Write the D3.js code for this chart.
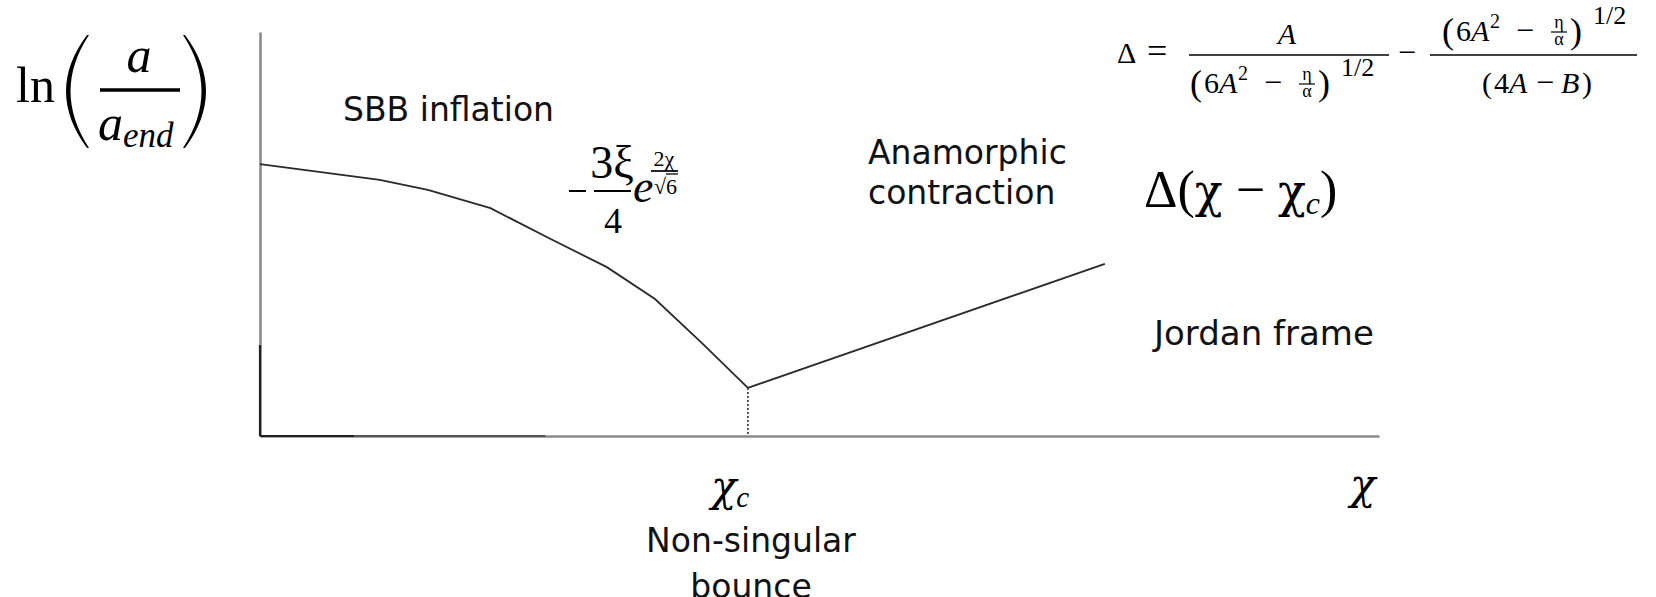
<!DOCTYPE html>
<html>
<head>
<meta charset="utf-8">
<script src="https://cdn.jsdelivr.net/npm/d3@7"></script>
<style>
  html, body { margin: 0; padding: 0; background: #fff; overflow: hidden; }
  svg { display: block; }
  .sans  { font-family: "DejaVu Sans", Verdana, sans-serif; fill: #111; }
  .serif { font-family: "Liberation Serif", "Times New Roman", serif; fill: #000; }
  .greek { font-family: "DejaVu Serif", "Liberation Serif", serif; fill: #000; }
</style>
</head>
<body>
<svg id="chart" width="1656" height="597"></svg>
<script>
// Scale factor ln(a/a_end) against the field chi (arbitrary units)
const chiInflation   = [0, 10.7, 15.0, 20.6, 25.8, 31.0, 35.3, 39.5, 43.6];
const lnAInflation   = [67.3, 63.4, 60.9, 56.4, 49.0, 41.8, 33.9, 23.0, 11.9];
const chiContraction = [43.6, 75.5];
const lnAContraction = [11.9, 42.6];
const chiBounce = 43.6;
const lnABounce = 11.9;
const chiDomain = [0, 100];
const lnADomain = [0, 100];

const svg = d3.select("#chart");
const x = d3.scaleLinear().domain(chiDomain).range([260, 1379]);
const y = d3.scaleLinear().domain(lnADomain).range([436, 32]);

// ---- axes (no ticks, plain lines) ----
const gx = svg.append("g").attr("transform", `translate(0,${y(0)})`)
  .call(d3.axisBottom(x).ticks(0).tickSizeOuter(0));
const gy = svg.append("g").attr("transform", `translate(${x(0)},0)`)
  .call(d3.axisLeft(y).ticks(0).tickSizeOuter(0));
[gx, gy].forEach(g => g.select(".domain").attr("stroke", "#8a8a8a").attr("stroke-width", 2.6));

// darker lower/left stretches of the axes
svg.append("line").attr("x1", x(0)).attr("x2", x(8.4)).attr("y1", y(0)).attr("y2", y(0))
  .attr("stroke", "#222").attr("stroke-width", 2.2);
svg.append("line").attr("x1", x(8.4)).attr("x2", x(25.5)).attr("y1", y(0)).attr("y2", y(0))
  .attr("stroke", "#555").attr("stroke-width", 2.2);
svg.append("line").attr("x1", x(0)).attr("x2", x(0)).attr("y1", y(0)).attr("y2", y(22.5))
  .attr("stroke", "#222").attr("stroke-width", 2.2);

// ---- curves ----
const line = d3.line().x(d => x(d[0])).y(d => y(d[1]));
svg.append("path")
  .datum(chiInflation.map((c, i) => [c, lnAInflation[i]]))
  .attr("d", line).attr("fill", "none").attr("stroke", "#2a2a2a").attr("stroke-width", 1.8);
svg.append("path")
  .datum(chiContraction.map((c, i) => [c, lnAContraction[i]]))
  .attr("d", line).attr("fill", "none").attr("stroke", "#2a2a2a").attr("stroke-width", 1.8);

// dotted drop line at the bounce
svg.append("line")
  .attr("x1", x(chiBounce)).attr("x2", x(chiBounce))
  .attr("y1", y(lnABounce)).attr("y2", y(0))
  .attr("stroke", "#333").attr("stroke-width", 1.6).attr("stroke-dasharray", "2,2");

// ---- text helpers ----
function t(px, py, s, size, opts = {}) {
  return svg.append("text")
    .attr("x", px).attr("y", py)
    .attr("class", opts.cls || (opts.sans ? "sans" : "serif"))
    .attr("text-anchor", opts.anchor || "start")
    .style("font-size", size + "px")
    .style("font-style", opts.italic ? "italic" : null)
    .text(s);
}
function bar(x1, x2, py, w) {
  svg.append("line").attr("x1", x1).attr("x2", x2).attr("y1", py).attr("y2", py)
    .attr("stroke", "#000").attr("stroke-width", w);
}

// ---- y label: ln(a / a_end) ----
t(16, 102, "ln", 50);
svg.append("path").attr("d", "M87,35 Q45,91 87,148 L89,148 Q52,91 89,35 Z").attr("fill", "#000");
svg.append("path").attr("d", "M185,35 Q227,91 185,148 L183,148 Q220,91 183,35 Z").attr("fill", "#000");
t(139, 72, "a", 50, { italic: true, anchor: "middle" });
bar(100, 180, 90, 3.6);
const aend = t(98, 140, "a", 50, { italic: true });
aend.append("tspan").attr("dy", 7).style("font-size", "35px").text("end");

// ---- region labels ----
t(343, 121, "SBB inflation", 33, { sans: true });
t(868, 164, "Anamorphic", 33, { sans: true });
t(868, 204, "contraction", 33, { sans: true });
t(1154, 345, "Jordan frame", 34, { sans: true });
t(751, 552, "Non-singular", 33, { sans: true, anchor: "middle" });
t(751, 598, "bounce", 33, { sans: true, anchor: "middle" });

// ---- x labels ----
const chic = t(x(chiBounce) - 37, 501, "χ", 42, { italic: true, cls: "greek" });
chic.append("tspan").attr("dy", 6).style("font-size", "29px")
  .style("font-family", "Liberation Serif").text("c");
t(1350, 499, "χ", 42, { italic: true, cls: "greek" });

// ---- inflation branch formula: -3ξ/4 e^{2χ/√6} ----
bar(569, 586, 191, 2);
bar(594, 631, 191, 2);
t(612, 178, "3ξ", 46, { anchor: "middle" });
t(613, 233, "4", 36, { anchor: "middle" });
t(633, 202, "e", 46, { italic: true });
t(664, 166, "2χ", 22, { anchor: "middle" });
bar(651, 678, 171, 1.7);
t(654, 194, "√6", 22);
bar(666, 678, 174, 1.3);

// ---- contraction branch formula ----
const dchi = t(1144, 207, "Δ(", 52);
dchi.append("tspan").attr("class", "greek").style("font-size", "46px").text("χ");
dchi.append("tspan").text(" − ");
dchi.append("tspan").attr("class", "greek").style("font-size", "46px").text("χ");
dchi.append("tspan").attr("dy", 7).style("font-size", "32px").style("font-style", "italic").text("c");
dchi.append("tspan").attr("dy", -7).style("font-size", "52px").text(")");

// ---- Δ definition ----
t(1117, 63, "Δ", 30);
t(1147, 63, "=", 36);
bar(1189, 1389, 55, 1.5);
t(1287, 44, "A", 30, { italic: true, anchor: "middle" });

function rootTerm(x0, B) {
  t(x0, B + 2, "(", 36);
  const six = t(x0 + 14, B, "6", 30);
  six.append("tspan").style("font-style", "italic").text("A");
  t(x0 + 48, B - 13, "2", 20);
  t(x0 + 74, B, "−", 32);
  t(x0 + 117, B - 13, "η", 18, { anchor: "middle" });
  bar(x0 + 109, x0 + 125, B - 9, 1.2);
  t(x0 + 117, B + 4, "α", 18, { anchor: "middle" });
  t(x0 + 128, B + 2, ")", 36);
  t(x0 + 151, B - 17, "1/2", 26);
}
rootTerm(1190, 93);
t(1398, 63, "−", 32);
bar(1430, 1637, 55, 1.5);
rootTerm(1442, 41);
t(1482, 93, "(", 30);
t(1494, 93, "4", 30);
t(1509, 93, "A", 30, { italic: true });
t(1536, 93, "−", 32);
t(1561, 93, "B", 30, { italic: true });
t(1582, 93, ")", 30);
</script>
</body>
</html>
